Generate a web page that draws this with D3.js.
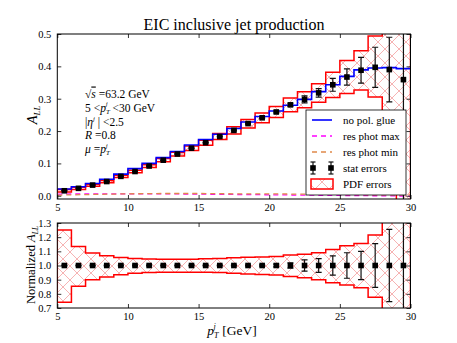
<!DOCTYPE html>
<html><head><meta charset="utf-8">
<script src="https://cdn.jsdelivr.net/npm/d3@7"></script>
<style>
body{margin:0;background:#fff;}
text{font-family:"Liberation Serif","DejaVu Serif",serif;fill:#000;}
</style>
</head><body>
<svg id="c" width="457" height="343"></svg>
<script>
// ---------------- data ----------------
const binEdges   = [5,6,7,8,9,10,11,12,13,14,15,16,17,18,19,20,21,22,23,24,25,26,27,28,29,30];
const binCenters = [5.5,6.5,7.5,8.5,9.5,10.5,11.5,12.5,13.5,14.5,15.5,16.5,17.5,18.5,19.5,20.5,21.5,22.5,23.5,24.5,25.5,26.5,27.5,28.5,29.5];
const aLL        = [0.0154,0.023,0.033,0.044,0.060,0.075,0.092,0.110,0.129,0.147,0.164,0.183,0.202,0.223,0.241,0.259,0.281,0.298,0.318,0.343,0.367,0.388,0.397,0.390,0.359];
const statErr    = [0.0005,0.0005,0.0005,0.0006,0.0007,0.0008,0.0009,0.001,0.001,0.0011,0.0012,0.0013,0.0014,0.0015,0.0017,0.003,0.005,0.011,0.013,0.020,0.025,0.040,0.062,0.100,0.400];
const noPolGlue  = [0.021,0.028,0.038,0.051,0.067,0.084,0.100,0.118,0.137,0.157,0.174,0.190,0.208,0.228,0.245,0.262,0.280,0.298,0.322,0.343,0.369,0.389,0.395,0.396,0.393];
const pdfUp      = [0.0193,0.0261,0.0359,0.047,0.0634,0.0787,0.0962,0.115,0.1348,0.1536,0.1717,0.1922,0.2131,0.2359,0.2555,0.2756,0.3021,0.3218,0.3466,0.3818,0.4184,0.4481,0.494,0.585,0.574];
const pdfLo      = [0.0114,0.0196,0.0297,0.0404,0.0561,0.0709,0.0874,0.1048,0.1229,0.1401,0.1561,0.1739,0.1909,0.2096,0.2258,0.2416,0.2594,0.2724,0.289,0.304,0.3164,0.3271,0.305,0.195,-0.05];
const resPhotX   = [5,7.5,10,12.5,15,17.5,20,22.5,25,27.5,30];
const resPhotMax = [0.005,0.006,0.006,0.006,0.005,0.004,0.003,0.002,0.001,0.000,-0.001];
const resPhotMin = [0.002,0.004,0.006,0.007,0.007,0.006,0.006,0.005,0.004,0.003,0.003];
const normCentral= [1,1,1,1,1,1,1,1,1,1,1,1,1,1,1,1,1,1,1,1,1,1,1,1,1];
const normStat   = [0.002,0.002,0.002,0.002,0.002,0.002,0.002,0.002,0.002,0.002,0.002,0.002,0.002,0.002,0.004,0.010,0.018,0.040,0.048,0.068,0.090,0.100,0.155,0.255,0.600];
const normUp     = [1.25,1.134,1.089,1.068,1.056,1.049,1.046,1.045,1.045,1.045,1.047,1.05,1.055,1.058,1.06,1.064,1.075,1.08,1.09,1.113,1.14,1.155,1.215,1.5,1.6];
const normLo     = [0.74,0.854,0.90,0.918,0.935,0.945,0.95,0.953,0.953,0.953,0.952,0.95,0.945,0.94,0.937,0.933,0.923,0.914,0.90,0.878,0.862,0.843,0.776,0.5,-0.1];
const xTicks     = [5,10,15,20,25,30];
const yTopTicks  = [0.0,0.1,0.2,0.3,0.4,0.5];
const yBotTicks  = [0.7,0.8,0.9,1.0,1.1,1.2,1.3];
const legendItems = ["no pol. glue","res phot max","res phot min","stat errors","PDF errors"];

// ---------------- layout ----------------
const svg = d3.select("#c");
const L = 57.3, R = 410.5;
const x = d3.scaleLinear().domain([5,30]).range([L,R]);
const yT = d3.scaleLinear().domain([-0.01,0.5]).range([199,34]);
const yB = d3.scaleLinear().domain([0.7,1.3]).range([308,223]);

const defs = svg.append("defs");
const pat = defs.append("pattern").attr("id","hatch").attr("patternUnits","userSpaceOnUse")
  .attr("width",14).attr("height",14);
pat.append("path").attr("d","M0,0L14,14M0,14L14,0M-1,1L1,-1M13,15L15,13M-1,13L1,15M13,-1L15,1")
  .attr("stroke","#f4a0a0").attr("stroke-width",0.8).attr("fill","none");
function clip(id, y) {
  defs.append("clipPath").attr("id",id).append("rect")
    .attr("x",L).attr("y",y.range()[1]).attr("width",R-L).attr("height",y.range()[0]-y.range()[1]);
}
clip("clipT", yT); clip("clipB", yB);

// rich text helper: sub/sup as shifted, smaller tspans
function rich(parent, px, py, segs, size, anchor, rotate) {
  const t = parent.append("text").attr("x",px).attr("y",py).attr("font-size",size)
    .attr("text-anchor",anchor||"start");
  if (rotate) t.attr("transform",`rotate(${rotate},${px},${py})`);
  let off = 0;
  segs.forEach(s => {
    const o = s.sub ? 0.2*size : s.sup ? -0.47*size : 0;
    const ts = t.append("tspan").text(s.t).attr("dy", o-off);
    off = o;
    if (s.it) ts.attr("font-style","italic");
    if (s.sub || s.sup) ts.attr("font-size", size*0.6);
    if (s.dx) ts.attr("dx", s.dx);
    if (s.ov) ts.attr("text-decoration","overline");
  });
  return t;
}

const stepData = (vals) => binEdges.map((e,i) => [e, vals[Math.min(i, vals.length-1)]]);

function panel(y, clipId, central, err, up, lo, showBlue) {
  const g = svg.append("g").attr("clip-path",`url(#${clipId})`);
  const band = binEdges.map((e,i) => ({x:e, u:up[Math.min(i,up.length-1)], l:lo[Math.min(i,lo.length-1)]}));
  g.append("path").datum(band)
    .attr("d", d3.area().curve(d3.curveStepAfter).x(d=>x(d.x)).y0(d=>y(d.l)).y1(d=>y(d.u)))
    .attr("fill","url(#hatch)").attr("stroke","#ff0000").attr("stroke-width",1.5);
  if (showBlue) {
    const ln = d3.line().curve(d3.curveStepAfter).x(d=>x(d[0])).y(d=>y(d[1]));
    g.append("path").datum(stepData(noPolGlue)).attr("d",ln)
      .attr("fill","none").attr("stroke","#0000ff").attr("stroke-width",1.6);
    const sl = d3.line().x((d,i)=>x(resPhotX[i])).y(d=>y(d));
    g.append("path").datum(resPhotMax).attr("d",sl).attr("fill","none")
      .attr("stroke","#ff00ff").attr("stroke-width",1.3).attr("stroke-dasharray","5,4");
    g.append("path").datum(resPhotMin).attr("d",sl).attr("fill","none")
      .attr("stroke","#e0894a").attr("stroke-width",1.3).attr("stroke-dasharray","5,4");
  }
  const eb = g.append("g").attr("stroke","#111").attr("stroke-width",1.2);
  binCenters.forEach((c,i) => {
    const y1 = y(central[i]-err[i]), y2 = y(central[i]+err[i]);
    eb.append("line").attr("x1",x(c)).attr("x2",x(c)).attr("y1",y1).attr("y2",y2);
    eb.append("line").attr("x1",x(c)-3).attr("x2",x(c)+3).attr("y1",y1).attr("y2",y1);
    eb.append("line").attr("x1",x(c)-3).attr("x2",x(c)+3).attr("y1",y2).attr("y2",y2);
  });
  g.append("g").selectAll("rect").data(binCenters).join("rect")
    .attr("x",c=>x(c)-2.8).attr("y",(c,i)=>y(central[i])-2.8)
    .attr("width",5.6).attr("height",5.6).attr("fill","#000");
}

panel(yT, "clipT", aLL, statErr, pdfUp, pdfLo, true);
panel(yB, "clipB", normCentral, normStat, normUp, normLo, false);

function axes(y, yticks, fmt) {
  const top = y.range()[1], bot = y.range()[0];
  const g = svg.append("g");
  g.append("rect").attr("x",L).attr("y",top).attr("width",R-L).attr("height",bot-top)
    .attr("fill","none").attr("stroke","#000").attr("stroke-width",1);
  const axB = d3.axisBottom(x).tickValues(xTicks).tickSizeInner(-4).tickSizeOuter(0).tickPadding(5).tickFormat(d3.format("d"));
  g.append("g").attr("transform",`translate(0,${bot})`).call(axB);
  const axTp = d3.axisTop(x).tickValues(xTicks).tickSizeInner(-4).tickSizeOuter(0).tickFormat("");
  g.append("g").attr("transform",`translate(0,${top})`).call(axTp);
  const axL = d3.axisLeft(y).tickValues(yticks).tickSizeInner(-4).tickSizeOuter(0).tickPadding(6).tickFormat(fmt);
  g.append("g").attr("transform",`translate(${L},0)`).call(axL);
  const axR = d3.axisRight(y).tickValues(yticks).tickSizeInner(-4).tickSizeOuter(0).tickFormat("");
  g.append("g").attr("transform",`translate(${R},0)`).call(axR);
  g.selectAll(".domain").remove();
  g.selectAll(".tick line").attr("stroke","#000").attr("stroke-width",0.8);
  g.selectAll(".tick text").style("font-family","'Liberation Serif', serif").attr("font-size",10.5).attr("fill","#000");
}
axes(yT, yTopTicks, d3.format(".1f"));
axes(yB, yBotTicks, d3.format(".1f"));

svg.append("text").attr("x",234).attr("y",29.5).attr("text-anchor","middle").attr("font-size",16)
  .text("EIC inclusive jet production");

// annotation
const ax = 85, fs = 11.5;
const lineY = [97.5, 111.8, 126, 138.8, 153];
rich(svg, ax, lineY[0], [{t:"√"},{t:"s",it:1,ov:1},{t:" =63.2 GeV"}], fs);
rich(svg, ax, lineY[1], [{t:"5 <"},{t:"p",it:1},{t:"T",it:1,sub:1},{t:"j",it:1,sup:1,dx:-4},{t:" <30 GeV",dx:2}], fs);
rich(svg, ax, lineY[2], [{t:"|"},{t:"η",it:1},{t:"j",it:1,sup:1},{t:" | <2.5"}], fs);
rich(svg, ax, lineY[3], [{t:"R",it:1},{t:" =0.8"}], fs);
rich(svg, ax, lineY[4], [{t:"μ",it:1},{t:" ="},{t:"p",it:1},{t:"T",it:1,sub:1},{t:"j",it:1,sup:1,dx:-4}], fs);

// axis labels
rich(svg, 37, 115, [{t:"A",it:1},{t:"LL",it:1,sub:1}], 14.5, "middle", -90);
rich(svg, 35, 265, [{t:"Normalized "},{t:"A",it:1},{t:"LL",it:1,sub:1}], 12.5, "middle", -90);
rich(svg, 232, 335, [{t:"p",it:1},{t:"T",it:1,sub:1},{t:"j",it:1,sup:1,dx:-5},{t:" [GeV]",dx:3}], 13.5, "middle");

// legend
const lg = svg.append("g");
lg.append("rect").attr("x",306).attr("y",110).attr("width",100).attr("height",85)
  .attr("fill","#fff").attr("stroke","#000").attr("stroke-width",0.8);
const rows = [120,136,152,168,184];
const lx0 = 312, lx1 = 332;
lg.append("line").attr("x1",lx0).attr("x2",lx1).attr("y1",rows[0]).attr("y2",rows[0]).attr("stroke","#0000ff").attr("stroke-width",1.6);
lg.append("line").attr("x1",lx0).attr("x2",lx1).attr("y1",rows[1]).attr("y2",rows[1]).attr("stroke","#ff00ff").attr("stroke-width",1.3).attr("stroke-dasharray","5,4");
lg.append("line").attr("x1",lx0).attr("x2",lx1).attr("y1",rows[2]).attr("y2",rows[2]).attr("stroke","#e0894a").attr("stroke-width",1.3).attr("stroke-dasharray","5,4");
[lx0+1, lx1-1].forEach(px => {
  lg.append("line").attr("x1",px).attr("x2",px).attr("y1",rows[3]-6).attr("y2",rows[3]+6).attr("stroke","#111").attr("stroke-width",1.2);
  lg.append("line").attr("x1",px-2.5).attr("x2",px+2.5).attr("y1",rows[3]-6).attr("y2",rows[3]-6).attr("stroke","#111").attr("stroke-width",1.2);
  lg.append("line").attr("x1",px-2.5).attr("x2",px+2.5).attr("y1",rows[3]+6).attr("y2",rows[3]+6).attr("stroke","#111").attr("stroke-width",1.2);
  lg.append("rect").attr("x",px-2.8).attr("y",rows[3]-2.8).attr("width",5.6).attr("height",5.6).attr("fill","#000");
});
lg.append("rect").attr("x",lx0-1).attr("y",rows[4]-5).attr("width",lx1-lx0+2).attr("height",10)
  .attr("fill","url(#hatch)").attr("stroke","#ff0000").attr("stroke-width",1.5);
lg.selectAll("text.li").data(legendItems).join("text").attr("class","li")
  .attr("x",343).attr("y",(d,i)=>rows[i]+3.8).attr("font-size",11).text(d=>d);
</script>
</body></html>
